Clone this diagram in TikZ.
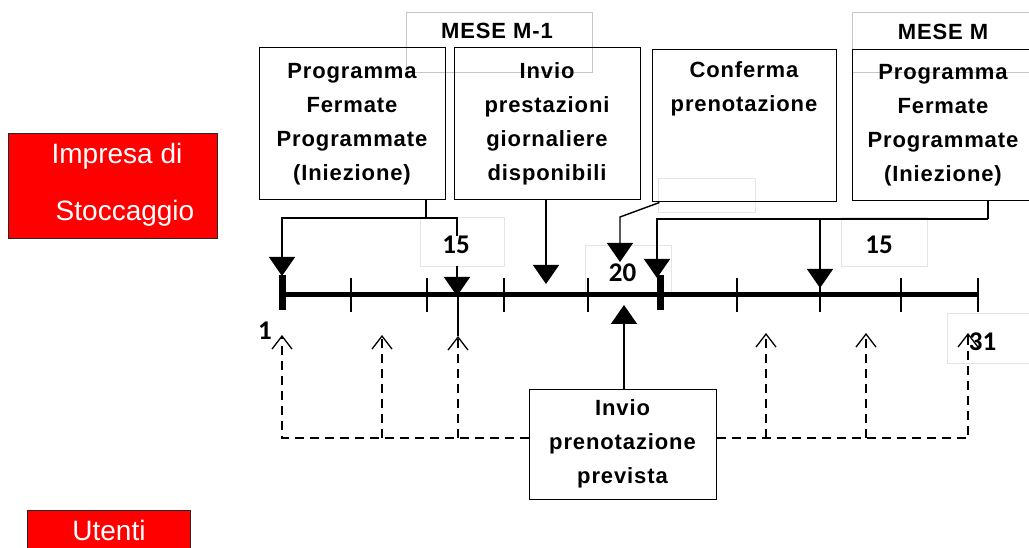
\documentclass[tikz,border=0pt]{standalone}
\usepackage{fontspec}
\setmainfont{Liberation Sans}
\newfontfamily\boxfont{Liberation Sans}[LetterSpace=4]
\newfontfamily\numfont{Carlito}
\usetikzlibrary{arrows.meta}
\begin{document}
\begin{tikzpicture}[x=1pt,y=-1pt,
  box/.style={draw=black, line width=1pt, minimum width=186pt, minimum height=152pt,
    inner sep=0pt, align=center, font=\boxfont\bfseries\fontsize{22}{34}\selectfont},
  mesebox/.style={draw=black!22, line width=0.9pt, inner sep=0pt},
  mesetxt/.style={font=\boxfont\bfseries\fontsize{22}{26}\selectfont, inner sep=0pt},
  faint/.style={draw=black!10, line width=0.8pt, inner sep=0pt},
  redbox/.style={draw=black!85, line width=1pt, fill=red, inner sep=0pt},
  redtxt/.style={text=white, font=\fontsize{28}{32}\selectfont, inner sep=0pt},
  num/.style={font=\numfont\bfseries\fontsize{27}{30}\selectfont, inner sep=0pt, anchor=base},
  conn/.style={line width=1.4pt},
  fillarrow/.style={conn, -{Triangle[width=26pt,length=19pt]}},
  dasharrow/.style={line width=1.3pt, dash pattern=on 9pt off 6pt, -{Straight Barb[width=20pt,length=13pt]}},
  axis/.style={line width=5pt},
  tickthin/.style={line width=2pt},
  tickthick/.style={line width=7pt}
]
\useasboundingbox (0,0) rectangle (1029,548);
\clip (0,0) rectangle (1029,548);

% red actor boxes
\node[redbox, minimum width=209pt, minimum height=105pt] (impresa) at (112.5,186.5) {};
\node[redtxt, anchor=base] (imp1) at (117,163.3) {Impresa di};
\node[redtxt, anchor=base] (imp2) at (125,220.7) {Stoccaggio};
\node[redbox, minimum width=163pt, minimum height=50pt] (utenti) at (108.5,535) {};
\node[redtxt, anchor=base] (ut1) at (109,540) {Utenti};

% month header boxes (light grey)
\node[mesebox, minimum width=186pt, minimum height=60pt] (m1box) at (499,42) {};
\node[mesetxt] (m1txt) at (497,31) {MESE M-1};
\node[mesebox, minimum width=182pt, minimum height=60pt] (mbox) at (943,42) {};
\node[mesetxt] (mtxt) at (943,32) {MESE M};

% faint label frames
\node[faint, minimum width=84pt, minimum height=49pt] (f15a) at (462,241.5) {};
\node[faint, minimum width=86pt, minimum height=47pt] (f20) at (628,268.5) {};
\node[faint, minimum width=86pt, minimum height=49pt] (f15b) at (884,241.5) {};
\node[faint, minimum width=87pt, minimum height=50pt] (f31) at (990.5,338) {};
\node[faint, minimum width=97pt, minimum height=34pt] (fconf) at (706.5,195) {};

% activity boxes
\node[box] (prog1) at (352,124) {Programma\\Fermate\\Programmate\\(Iniezione)};
\node[box] (invio) at (547,124) {Invio\\prestazioni\\giornaliere\\disponibili};
\node[box, minimum width=184pt] (conf) at (744,126) {Conferma\\prenotazione\\\strut\\\strut};
\node[box, minimum width=182pt, minimum height=151pt] (progM) at (943,125.5) {Programma\\Fermate\\Programmate\\(Iniezione)};
\node[box, minimum width=187pt, minimum height=110pt] (prev) at (622.5,444) {Invio\\prenotazione\\prevista};

% time axis
\draw[axis] (282,295) -- (978,295);
\draw[tickthick] (282,275) -- (282,310);
\draw[tickthick] (660,275) -- (660,310);
\foreach \x in {351,427,504,588,737,820,901,978}
  \draw[tickthin] (\x,278) -- (\x,312);

% connectors from the upper boxes
\coordinate (j1) at (426,218);
\coordinate (a1) at (282,276);
\coordinate (a15) at (457,296);
\draw[conn] (prog1.south -| j1) -- (j1);
\draw[fillarrow] (j1) -| (a1);
\draw[fillarrow] (j1) -| (a15);

\coordinate (a2) at (546,284);
\draw[fillarrow] (invio.south -| a2) -- (a2);

\coordinate (k3) at (620,217);
\coordinate (a3) at (620,262);
\draw[fillarrow] ([xshift=8pt]conf.south west) -- (k3) -- (a3);

\coordinate (j4) at (988,219);
\coordinate (a4) at (657,278);
\coordinate (j5) at (820,219);
\coordinate (a5) at (820,288);
\draw[conn] (progM.south -| j4) -- (j4);
\draw[fillarrow] (j4) -| (a4);
\draw[fillarrow] (j5) -- (a5);

% day labels
\node[num, fill=white, text depth=13pt] (n15a) at (456,253.3) {15};
\node[num] (n20) at (622.5,281.7) {20};
\node[num] (n15b) at (879,253.3) {15};
\node[num] (n1) at (265,339) {1};
\node[num] (n31) at (982.5,350) {31};

% booking arrow from below
\coordinate (a6) at (624,305);
\draw[fillarrow] (prev.north -| a6) -- (a6);

\coordinate (s1) at (458,297);
\coordinate (b3) at (458,336);
\draw[conn] (s1) -- (b3);

% dashed feedback arrows
\coordinate (dl) at (282,438);
\coordinate (b1) at (282,335);
\coordinate (c2) at (382,438);
\coordinate (b2) at (382,335);
\coordinate (c3) at (458,438);
\coordinate (c4) at (766,438);
\coordinate (b4) at (766,333);
\coordinate (c5) at (866,438);
\coordinate (b5) at (866,333);
\coordinate (b6) at (968,333);
\draw[dasharrow] (prev.west |- dl) -| (b1);
\draw[dasharrow] (c2) -- (b2);
\draw[dasharrow] (c3) -- (b3);
\draw[dasharrow] (prev.east |- dl) -| (b6);
\draw[dasharrow] (c4) -- (b4);
\draw[dasharrow] (c5) -- (b5);
\end{tikzpicture}
\end{document}
